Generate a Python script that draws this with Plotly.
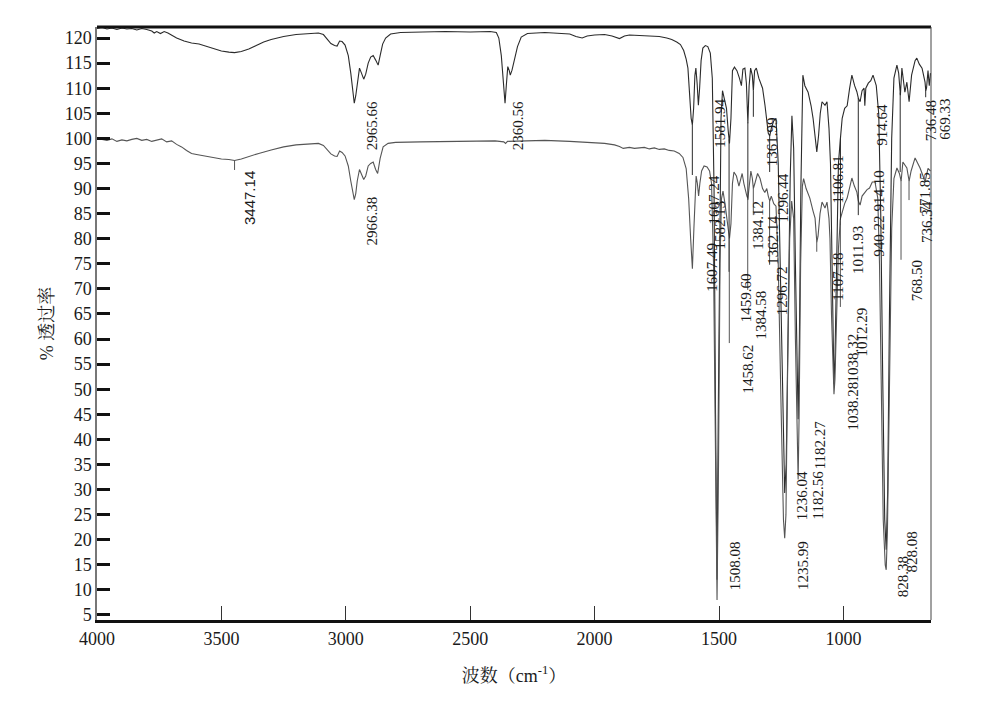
import numpy as np
import plotly.graph_objects as go

# ---------------- data ----------------
wn_upper = [4000, 3980, 3960, 3940, 3920, 3900, 3880, 3860, 3840, 3820, 3800, 3780, 3770, 3760, 3745, 3730, 3715, 3700,
            3680, 3650, 3620, 3590, 3560, 3530, 3500, 3470, 3447, 3420, 3390, 3360, 3330, 3300, 3250, 3200, 3150, 3110,
            3090, 3075, 3060, 3045, 3035, 3025, 3015, 3003, 2990, 2980, 2972, 2966, 2960, 2954, 2945, 2937, 2928, 2920,
            2910, 2900, 2890, 2880, 2870, 2862, 2852, 2840, 2820, 2780, 2700, 2600, 2500, 2420, 2395, 2385, 2375, 2366,
            2360, 2355, 2349, 2343, 2339, 2332, 2322, 2310, 2295, 2270, 2200, 2150, 2100, 2075, 2050, 2030, 2000, 1960,
            1930, 1900, 1880, 1860, 1820, 1780, 1740, 1710, 1690, 1670, 1655, 1642, 1632, 1625, 1618, 1612, 1607, 1602,
            1597, 1593, 1588, 1583, 1578, 1572, 1565, 1555, 1545, 1535, 1527, 1520, 1514, 1508, 1503, 1497, 1492, 1486,
            1478, 1470, 1463, 1458, 1452, 1446, 1438, 1428, 1418, 1410, 1404, 1396, 1390, 1384, 1379, 1373, 1366, 1362,
            1357, 1350, 1340, 1325, 1315, 1308, 1302, 1296, 1290, 1280, 1271, 1262, 1252, 1242, 1236, 1230, 1222, 1214,
            1207, 1200, 1193, 1187, 1182, 1177, 1171, 1163, 1155, 1142, 1130, 1122, 1112, 1107, 1100, 1093, 1086, 1074,
            1066, 1058, 1052, 1046, 1041, 1038, 1034, 1028, 1020, 1012, 1005, 995, 985, 975, 966, 955, 946, 940, 933,
            925, 917, 914, 910, 900, 890, 881, 868, 858, 850, 842, 834, 828, 822, 815, 806, 797, 785, 778, 771, 765,
            753, 745, 736, 726, 712, 705, 695, 684, 672, 669, 666, 660, 655, 650]
t_upper = [121.9, 122.1, 121.8, 122.0, 121.7, 122.0, 121.8, 121.9, 121.6, 121.9, 121.7, 121.4, 121.0, 121.3, 120.9, 121.3,
           121.0, 120.6, 120.0, 119.4, 119.0, 118.8, 118.3, 117.8, 117.4, 117.2, 117.1, 117.3, 117.8, 118.5, 119.2, 119.7,
           120.3, 120.7, 120.9, 121.0, 120.7, 119.8, 118.9, 118.5, 118.4, 119.4, 119.3, 118.6, 116.5, 113.0, 109.5, 107.0,
           108.5, 111.0, 114.0, 113.0, 111.8, 112.8, 115.0, 116.2, 116.5, 115.6, 114.6, 116.5, 118.8, 120.0, 120.8, 121.1,
           121.2, 121.3, 121.2, 121.3, 121.1, 120.0, 116.5, 110.0, 107.0, 110.5, 114.3, 113.5, 112.6, 113.6, 115.8, 118.3,
           120.2, 120.9, 121.1, 121.0, 120.8, 120.3, 120.0, 120.4, 120.6, 120.7, 120.4, 119.9, 120.4, 120.6, 120.5, 120.4,
           120.3, 120.0, 119.7, 119.2, 118.7, 117.5, 115.8, 114.0, 108.0, 104.0, 102.7, 106.0, 112.5, 114.0, 111.0, 106.6,
           110.0, 115.5, 118.0, 118.5, 118.3, 117.0, 112.0, 90.0, 45.0, 12.0, 45.0, 88.0, 104.0, 109.5, 108.0, 106.0,
           101.5, 99.0, 104.0, 113.5, 114.2, 113.5, 112.0, 110.5, 113.8, 114.0, 111.0, 103.0, 110.5, 114.0, 112.5, 109.5,
           113.5, 114.0, 112.0, 110.0, 106.5, 104.0, 101.0, 100.5, 102.0, 103.5, 104.0, 95.0, 70.0, 40.0, 29.3, 35.0,
           65.0, 92.0, 104.5, 98.0, 75.0, 55.0, 44.0, 60.0, 90.0, 112.6, 110.5, 109.2, 106.5, 104.0, 100.0, 97.3, 100.5,
           105.0, 107.3, 106.6, 107.3, 102.0, 95.0, 75.0, 56.0, 51.0, 56.0, 76.0, 95.0, 100.0, 104.0, 106.0, 106.5,
           110.0, 112.6, 110.5, 109.3, 108.0, 107.3, 109.5, 110.0, 106.5, 110.0, 111.0, 111.5, 112.6, 110.5, 104.8,
           85.0, 52.0, 24.0, 18.0, 30.0, 65.0, 100.0, 112.0, 114.6, 113.0, 108.6, 114.0, 109.2, 111.2, 107.3, 112.6,
           115.5, 116.0, 114.8, 114.0, 111.2, 109.5, 110.0, 113.5, 110.5, 113.0]

wn_lower = [4000, 3980, 3960, 3940, 3920, 3900, 3880, 3860, 3840, 3820, 3800, 3780, 3760, 3740, 3720, 3700, 3680, 3660,
            3640, 3620, 3600, 3570, 3540, 3500, 3470, 3447, 3420, 3390, 3350, 3300, 3250, 3200, 3150, 3110, 3090, 3075,
            3060, 3045, 3035, 3025, 3015, 3003, 2990, 2980, 2972, 2966, 2960, 2954, 2945, 2937, 2928, 2920, 2910, 2900,
            2890, 2880, 2872, 2862, 2850, 2830, 2800, 2700, 2600, 2500, 2400, 2365, 2358, 2350, 2300, 2200, 2100, 2050,
            2000, 1960, 1920, 1900, 1885, 1860, 1840, 1800, 1780, 1760, 1740, 1720, 1700, 1680, 1660, 1645, 1632, 1622,
            1614, 1607, 1601, 1596, 1592, 1587, 1582, 1577, 1570, 1560, 1548, 1538, 1530, 1522, 1515, 1508, 1502, 1496,
            1490, 1484, 1476, 1468, 1462, 1458, 1452, 1446, 1440, 1430, 1420, 1414, 1407, 1400, 1394, 1388, 1384, 1378,
            1372, 1366, 1362, 1356, 1345, 1335, 1325, 1316, 1308, 1302, 1296, 1290, 1280, 1271, 1262, 1250, 1241, 1236,
            1231, 1224, 1216, 1208, 1200, 1193, 1187, 1182, 1178, 1172, 1165, 1160, 1150, 1135, 1122, 1114, 1107, 1102,
            1094, 1086, 1074, 1066, 1058, 1054, 1048, 1042, 1038, 1034, 1028, 1020, 1012, 1005, 995, 985, 975, 966, 956,
            946, 940, 933, 925, 914, 905, 895, 884, 873, 862, 855, 848, 840, 832, 828, 823, 815, 806, 797, 785, 775, 768,
            761, 752, 745, 736, 728, 712, 700, 692, 680, 672, 660, 650]
t_lower = [100.0, 99.8, 99.6, 99.9, 99.4, 99.7, 99.5, 99.8, 100.0, 99.6, 99.8, 99.4, 99.7, 99.9, 99.3, 99.5, 98.8, 98.3,
           97.6, 97.0, 96.8, 96.5, 96.2, 95.9, 95.8, 95.6, 95.9, 96.4, 97.0, 97.7, 98.3, 98.7, 98.9, 99.0, 98.6, 97.8,
           96.9, 96.5, 96.4, 97.5, 97.2, 96.5, 94.5, 91.5, 89.5, 87.8, 89.0, 91.5, 93.8, 92.8, 91.8, 92.5, 94.5, 95.0,
           95.3, 93.8, 93.0, 96.0, 98.3, 99.0, 99.2, 99.3, 99.4, 99.4, 99.5, 99.3, 99.0, 99.4, 99.5, 99.6, 99.4, 99.3,
           99.1, 99.0, 98.7, 98.4, 98.0, 98.2, 98.0, 98.2, 97.9, 98.1, 97.8, 97.9, 97.6, 97.5, 97.0, 96.2, 94.0, 88.0,
           80.0, 74.0, 82.0, 90.0, 92.5, 91.0, 88.5, 91.0, 93.5, 94.5, 94.3, 93.5, 91.0, 75.0, 35.0, 8.0, 35.0, 75.0,
           88.0, 89.5, 87.0, 84.0, 81.0, 80.0, 83.0, 91.0, 93.3, 92.5, 90.5, 91.5, 93.0, 91.0, 89.5, 88.5, 88.0, 90.5,
           93.5, 92.0, 90.0, 91.0, 93.0, 92.0, 90.0, 89.2, 90.0, 88.5, 87.5, 88.5, 87.0, 86.5, 75.0, 45.0, 24.0, 20.3,
           25.0, 55.0, 80.0, 87.5, 84.0, 60.0, 40.0, 32.0, 45.0, 75.0, 90.5, 92.0, 90.0, 88.1, 85.5, 84.1, 79.3, 80.5,
           85.0, 87.3, 86.1, 87.3, 84.0, 80.0, 65.0, 52.0, 49.0, 52.0, 65.0, 78.0, 84.0, 85.5, 87.0, 88.1, 90.5, 92.1,
           90.5, 89.3, 87.5, 86.7, 88.5, 89.3, 89.8, 90.1, 91.3, 91.3, 88.1, 75.0, 50.0, 24.0, 15.0, 14.0, 22.0, 55.0,
           82.0, 92.0, 94.1, 93.0, 91.5, 95.3, 94.5, 94.1, 91.5, 93.5, 96.1, 95.0, 94.1, 92.5, 91.3, 94.0, 93.5]

# peak labels: text, which curve, text-centre wavenumber, T at top of text
label_text = ["3447.14", "2965.66", "2966.38", "2360.56", "1607.24", "1582.13", "1581.94", "1607.49", "1508.08",
              "1459.60", "1458.62", "1384.12", "1384.58", "1362.14", "1361.99", "1296.44", "1296.72", "1236.04",
              "1235.99", "1182.56", "1182.27", "1107.18", "1106.81", "1038.28", "1038.32", "1012.29", "1011.93",
              "940.22", "914.10", "914.64", "828.08", "828.38", "771.85", "768.50", "736.34", "736.48", "669.33"]
label_curve = ["B", "A", "B", "A", "A", "B", "A", "B", "B",
               "A", "B", "A", "B", "B", "A", "A", "B", "A",
               "B", "B", "A", "B", "A", "B", "A", "B", "A",
               "A", "B", "A", "A", "B", "A", "B", "B", "A", "A"]
label_x = [3385, 2895, 2895, 2308, 1524, 1496, 1496, 1528, 1436,
           1392, 1384, 1347, 1331, 1283, 1287, 1239, 1247, 1163,
           1163, 1102, 1094, 1022, 1022, 962, 962, 925, 942,
           857, 857, 845, 725, 761, 672, 704, 664, 648, 592]
label_top = [93.7, 107.7, 88.7, 107.7, 92.7, 87.7, 108.0, 79.3, 20.0,
             73.4, 59.2, 87.7, 69.8, 84.7, 104.3, 93.3, 74.8, 33.9,
             20.0, 33.9, 43.9, 77.4, 96.8, 51.8, 61.4, 66.4, 82.7,
             84.7, 93.7, 107.1, 21.9, 17.0, 93.3, 75.8, 87.7, 107.7, 108.2]

x_ticks = [4000, 3500, 3000, 2500, 2000, 1500, 1000]
y_ticks = list(range(5, 121, 5))
x_range = [4000, 648]
y_range = [4, 122.2]

# ---------------- figure ----------------
col_a = "#2b2b2b"
col_b = "#555555"
serif = "Liberation Serif, Times New Roman, Noto Serif CJK SC, Noto Sans CJK SC, serif"

fig = go.Figure()
fig.add_trace(go.Scatter(x=wn_upper, y=t_upper, mode="lines", line=dict(color=col_a, width=1.1), hoverinfo="skip"))
fig.add_trace(go.Scatter(x=wn_lower, y=t_lower, mode="lines", line=dict(color=col_b, width=1.1), hoverinfo="skip"))

# label tick lines: from the curve at the peak down to the top of its label
curves = {"A": (np.array(wn_upper[::-1], float), np.array(t_upper[::-1], float)),
          "B": (np.array(wn_lower[::-1], float), np.array(t_lower[::-1], float))}
for key, col in (("A", col_a), ("B", col_b)):
    xs, ys = [], []
    for txt, c, top in zip(label_text, label_curve, label_top):
        if c != key:
            continue
        pk = float(txt)
        val = float(np.interp(pk, *curves[key]))
        if val - top > 1.0:
            xs += [pk, pk, None]
            ys += [val, top, None]
    fig.add_trace(go.Scatter(x=xs, y=ys, mode="lines", line=dict(color=col, width=1), hoverinfo="skip"))

for txt, c, lx, top in zip(label_text, label_curve, label_x, label_top):
    fam = "Liberation Sans Narrow, Arial Narrow, Liberation Sans, sans-serif" if txt == "3447.14" else serif
    if x_range[1] <= lx <= x_range[0]:
        ax_x, ref = lx, "x"
    else:  # outside the axis range: place in paper units along the same linear scale
        ax_x, ref = (x_range[0] - lx) / (x_range[0] - x_range[1]), "paper"
    fig.add_annotation(x=ax_x, y=top, xref=ref, yref="y", text=txt, textangle=-90, showarrow=False,
                       xanchor="center", yanchor="top", font=dict(family=fam, size=15, color="#1a1a1a"),
                       borderpad=0)

fig.update_layout(
    width=965, height=695,
    margin=dict(l=89, r=42, t=19, b=83, autoexpand=False),
    paper_bgcolor="white", plot_bgcolor="white",
    showlegend=False,
    font=dict(family=serif, size=18, color="#1a1a1a"),
    xaxis=dict(range=x_range, tickvals=x_ticks, ticktext=[str(v) for v in x_ticks],
               ticks="inside", ticklen=14, tickwidth=1, tickcolor="#333", automargin=False,
               showline=True, linecolor="#111", linewidth=3, showgrid=False, zeroline=False,
               tickfont=dict(family=serif, size=18),
               title=dict(text="波数（cm<sup>-1</sup>）", standoff=22, font=dict(family=serif, size=18))),
    yaxis=dict(range=y_range, tickvals=y_ticks, ticktext=[str(v) for v in y_ticks],
               ticks="inside", ticklen=13, tickwidth=3, tickcolor="#111", automargin=False,
               showline=True, linecolor="#777", linewidth=1.5, showgrid=False, zeroline=False,
               tickfont=dict(family=serif, size=18),
               title=dict(text="% 透过率", standoff=6, font=dict(family=serif, size=18))),
)
fig.add_shape(type="line", xref="paper", yref="paper", x0=0, x1=1, y0=1, y1=1, line=dict(color="#111", width=3))
fig.add_shape(type="line", xref="paper", yref="paper", x0=1, x1=1, y0=0, y1=1, line=dict(color="#444", width=1))

fig.write_html("out.html")
